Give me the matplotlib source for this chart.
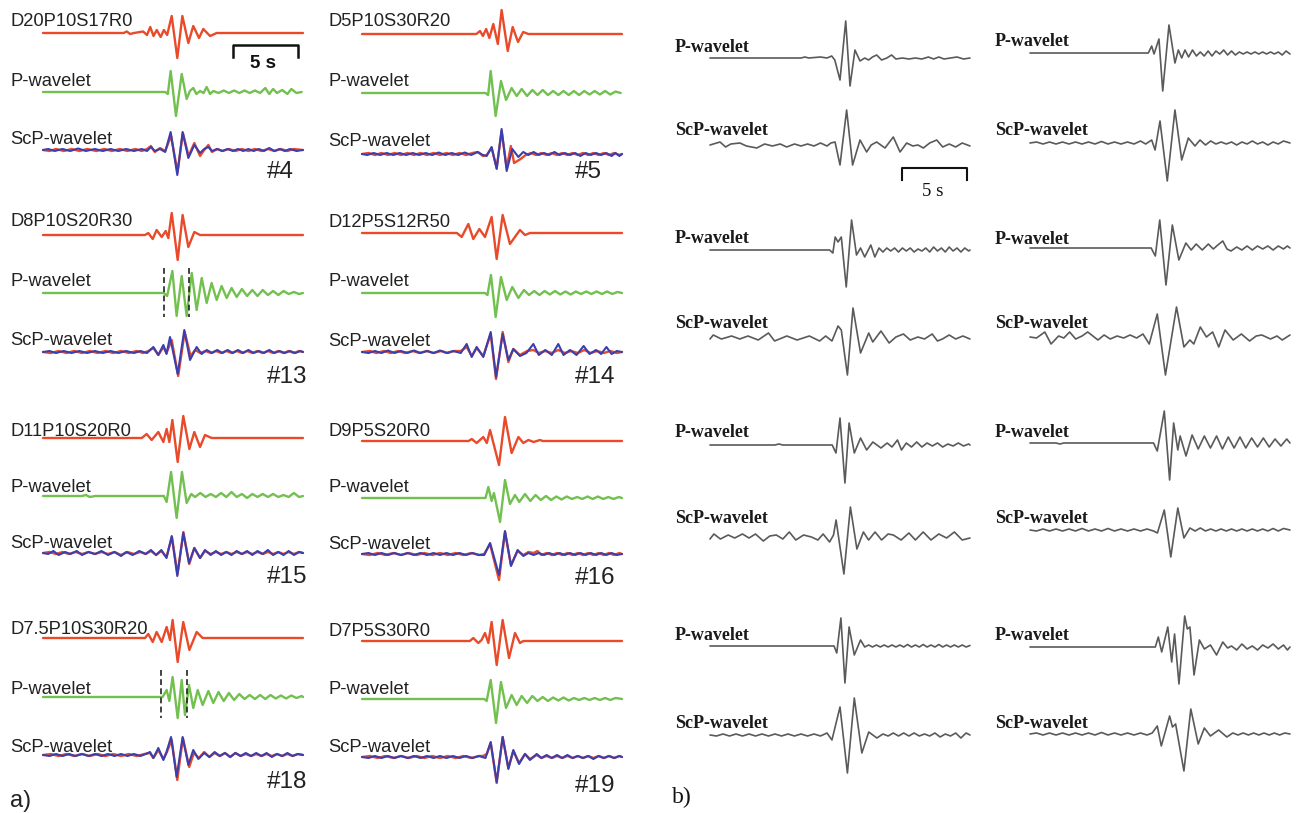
import matplotlib
matplotlib.use('Agg')
import matplotlib.pyplot as plt

W, H = 1302, 813
PX = 13.0  # pixels per second (5 s scale bar = 65 px)

# ---------------- data: (time s, amplitude) knots ----------------
# Panel a, event #4
A4_RED = [(0,0),(6.2,0),(6.45,1.5),(6.7,-1),(7.0,0),(7.7,1.5),(8.0,-2),(8.25,6),(8.5,-3),(8.75,3),(9.05,-4),(9.3,3),(9.55,-2),(9.9,17),(10.33,-25),(10.72,17),(11.18,-10),(11.56,7),(12.0,-5),(12.33,4),(12.85,-3),(13.36,0),(20,0)]
A4_GREEN = [(0,0),(9.4,0),(9.6,-2),(9.82,21),(10.23,-24),(10.67,18),(11.05,-7),(11.3,1),(11.56,4),(11.8,-2),(12.08,1),(12.35,-1),(12.59,5),(12.85,-2),(13.1,1),(13.5,-1),(13.9,1.5),(14.3,-1),(14.7,1.5),(15.1,-1),(15.5,1.5),(15.9,-1),(16.3,1.5),(16.7,-1),(17.1,4),(17.4,-2),(17.7,3),(18.0,-1),(18.4,2),(18.8,-2),(19.1,3),(19.5,-1),(19.9,0)]
A4_SCP_RED = [(0,0),(0.5,-1),(1.0,1),(1.6,-1),(2.2,1),(2.8,-1),(3.4,1),(4.1,-1),(4.7,1),(5.3,-1),(5.9,1),(6.5,-1),(7.1,1),(7.6,-1),(8.0,1),(8.3,4),(8.6,-2),(9.0,2),(9.4,-1),(9.85,14),(10.35,-22),(10.76,17),(11.2,-6),(11.64,7),(12.08,-6),(12.4,0),(12.72,5),(13.0,-2),(13.4,1),(13.8,-1),(14.3,1),(14.8,-1),(15.3,1),(15.8,-1),(16.3,1),(16.8,-1),(17.3,1),(17.8,-1),(18.3,1),(18.8,-1),(19.3,1),(20,0)]
A4_SCP_BLUE = [(0,0),(0.4,1),(0.9,-1),(1.5,1),(2.1,-1),(2.7,1.5),(3.3,-1),(4.0,1),(4.6,-1),(5.2,1),(5.8,-1),(6.4,1),(7.0,-1),(7.6,1),(8.0,-1),(8.3,3),(8.6,-1),(9.0,1),(9.4,-2),(9.82,18),(10.33,-25),(10.74,18),(11.18,-8),(11.64,5),(12.08,-3),(12.4,1),(12.72,3),(13.0,-1),(13.4,1),(13.8,-1),(14.2,1),(14.6,-1),(15.0,1),(15.4,-1),(15.8,1),(16.2,-1),(16.6,1),(17.0,-1),(17.4,2),(17.8,-1),(18.2,1),(18.6,-1),(19.0,1),(19.5,-1),(20,0)]

# Panel a, event #5
A5_RED = [(0,0),(8.8,0),(9.08,3),(9.3,-2),(9.55,5),(9.8,-4),(10.1,10),(10.45,-10),(10.74,24),(11.21,-17),(11.59,7),(12.0,-8),(12.4,2),(12.8,0),(20,0)]
A5_GREEN = [(0,0),(9.5,0),(9.7,-2),(9.9,22),(10.28,-23),(10.69,12),(11.08,-7),(11.51,5),(11.9,-3),(12.28,4),(12.7,-3),(13.1,3),(13.5,-2),(13.9,3),(14.3,-2),(14.7,2),(15.1,-2),(15.5,2),(15.9,-2),(16.3,2),(16.7,-2),(17.1,2),(17.5,-1.5),(17.9,2),(18.3,-1.5),(18.7,2),(19.1,-1.5),(19.5,1.5),(19.9,0)]
A5_SCP_RED = [(0,0),(0.5,1),(1.0,-1),(1.5,1),(2.0,-1),(2.5,1),(3.0,-1),(3.5,1),(4.0,-1),(4.5,1),(5.0,-1),(5.5,1),(6.0,-1),(6.5,1),(7.0,-1),(7.5,1),(8.0,-1),(8.5,1),(8.9,2),(9.3,-2),(9.59,-1),(9.97,6),(10.36,-14),(10.74,23),(11.13,-14),(11.45,8),(11.7,-9),(12.2,-5),(12.6,-1),(13.0,1),(13.4,-1),(13.8,1),(14.2,-1),(14.6,1),(15.0,-1),(15.4,1),(15.8,-1),(16.2,1),(16.6,-1),(17.0,1),(17.4,-1),(17.8,1),(18.2,-1),(18.6,1),(19.0,-1),(19.4,1),(19.8,-1),(20,0)]
A5_SCP_BLUE = [(0,0),(0.4,-1),(0.9,1),(1.4,-1),(1.9,1),(2.4,-1),(2.9,1),(3.4,-1),(3.9,1),(4.4,-1),(4.9,1),(5.4,-1),(5.9,1.5),(6.4,-1),(6.9,1),(7.4,-1),(7.9,1.5),(8.4,-1),(8.9,2),(9.3,-1),(9.59,-2),(9.97,7),(10.36,-15),(10.74,25),(11.13,-17),(11.56,5),(12.03,-3),(12.4,2),(12.8,-1),(13.2,2),(13.6,-1),(14.0,1),(14.4,-1),(14.8,2),(15.2,-1),(15.6,1),(16.0,-1),(16.4,1),(16.8,-2),(17.2,1),(17.6,-1),(18.0,1),(18.4,-1),(18.8,1),(19.2,-2),(19.5,1),(19.8,-2),(20,0)]

# Panel a, event #13
A13_RED = [(0,0),(7.85,0),(8.1,2),(8.44,-4),(8.74,5),(9.13,-2),(9.44,4),(9.64,-3),(9.9,22),(10.36,-25),(10.74,20),(11.18,-12),(11.64,3),(12.08,0),(20,0)]
A13_GREEN = [(0,0),(9.3,0),(9.55,-3),(9.95,22),(10.28,-23),(10.67,17),(11.05,-23),(11.44,20),(11.82,-17),(12.21,15),(12.59,-10),(12.97,10),(13.36,-7),(13.74,7),(14.13,-5),(14.51,5),(14.9,-4),(15.3,4),(15.7,-3),(16.1,3),(16.5,-3),(16.9,3),(17.3,-2),(17.7,2),(18.1,-2),(18.5,2),(18.9,-1),(19.3,1),(19.7,-1),(20,0)]
A13_SCP_RED = [(0,0),(0.6,-1),(1.2,1),(1.8,-1),(2.4,1),(3.0,-1),(3.6,1),(4.2,-1),(4.8,1),(5.4,-1),(6.0,1),(6.6,-1),(7.2,1),(7.7,-1),(8.1,1),(8.49,4),(8.87,-3),(9.26,5),(9.5,-1),(9.9,12),(10.4,-24),(10.9,20),(11.35,-4),(11.7,2),(12.1,-1),(12.5,1),(12.9,-1),(13.3,1),(13.7,-1),(14.1,1),(14.5,-1),(14.9,1),(15.3,-1),(15.7,1),(16.1,-1),(16.5,1),(16.9,-1),(17.3,1),(17.7,-1),(18.1,1),(18.5,-1),(18.9,1),(19.3,-1),(19.7,1),(20,0)]
A13_SCP_BLUE = [(0,0),(0.5,1),(1.0,-1),(1.6,1),(2.2,-1),(2.8,1),(3.4,-1),(4.0,1),(4.6,-1),(5.2,1),(5.8,-1),(6.4,1),(7.0,-1),(7.5,1),(8.0,-1),(8.49,5),(8.87,-3),(9.26,7),(9.5,-2),(9.77,15),(10.36,-22),(10.87,22),(11.31,-8),(11.82,5),(12.2,-2),(12.6,2),(13.0,-1),(13.4,2),(13.8,-1),(14.2,2),(14.6,-1),(15.0,2),(15.4,-1),(15.8,2),(16.2,-1),(16.6,1),(17.0,-1),(17.4,2),(17.8,-1),(18.2,1),(18.6,-1),(19.0,1),(19.4,-1),(19.8,1),(20,0)]

# Panel a, event #14
A14_RED = [(0,0),(7.3,0),(7.67,-4),(8.18,9),(8.56,-6),(9.03,4),(9.46,-4),(9.97,16),(10.36,-26),(10.82,18),(11.38,-11),(12.15,3),(12.54,-2),(12.92,0),(20,0)]
A14_GREEN = [(0,0),(9.45,0),(9.65,-2),(9.92,18),(10.28,-24),(10.69,16),(11.13,-7),(11.56,6),(12.03,-5),(12.46,3),(12.85,-2),(13.25,2),(13.65,-2),(14.05,2),(14.45,-1.5),(14.85,2),(15.25,-1.5),(15.65,1.5),(16.05,-1.5),(16.45,1.5),(16.85,-1),(17.25,1.5),(17.65,-1),(18.05,1.5),(18.45,-1),(18.85,1.5),(19.25,-1),(19.65,1),(20,0)]
A14_SCP_RED = [(0,0),(0.6,1),(1.1,-1),(1.7,1),(2.2,-1),(2.8,1),(3.3,-1),(3.9,1),(4.4,-1),(5.0,1),(5.5,-1),(6.1,1),(6.6,-1),(7.1,1),(7.6,1),(8.05,5),(8.44,-4),(8.82,4),(9.33,-4),(9.9,18),(10.31,-27),(10.82,20),(11.26,-10),(11.64,3),(12.15,-3),(12.7,1),(13.18,2),(13.6,-1),(14.1,1),(14.6,-1),(15.1,2),(15.6,-1),(16.1,1),(16.6,-1),(17.1,2),(17.6,-1),(18.1,1),(18.6,-1),(19.1,1),(19.6,-1),(20,0)]
A14_SCP_BLUE = [(0,0),(0.5,-1),(1.0,1),(1.5,-1),(2.0,1.5),(2.5,-1),(3.0,1),(3.5,-1),(4.0,1.5),(4.5,-1),(5.0,1),(5.5,-1),(6.0,1.5),(6.5,-1),(7.0,1),(7.6,-1),(8.05,8),(8.44,-5),(8.82,5),(9.33,-5),(9.9,20),(10.31,-25),(10.82,18),(11.26,-8),(11.64,3),(12.15,-4),(12.65,-1),(13.18,8),(13.6,-3),(14.1,2),(14.6,-3),(15.1,8),(15.5,-3),(16.0,2),(16.5,-3),(17.05,6),(17.5,-2),(18.0,2),(18.4,-2),(18.8,5),(19.2,-2),(19.6,1),(20,0)]

# Panel a, event #15
A15_RED = [(0,0),(7.6,0),(7.97,4),(8.36,-2),(8.87,6),(9.26,-4),(9.51,9),(9.72,-4),(9.95,18),(10.36,-24),(10.79,22),(11.26,-11),(11.64,6),(12.08,-9),(12.46,3),(12.97,0),(20,0)]
A15_GREEN = [(0,0),(3.0,0),(3.3,1),(3.6,-1),(4.0,0),(9.3,0),(9.51,-6),(9.85,24),(10.28,-22),(10.69,24),(11.05,-7),(11.4,2),(11.7,-1),(12.1,3),(12.5,-1),(12.9,2),(13.3,-1),(13.7,3),(14.1,-1),(14.5,4),(14.9,-1),(15.3,2),(15.7,-2),(16.1,2),(16.5,-1),(16.9,2),(17.3,-1),(17.7,2),(18.1,-1),(18.5,1),(18.9,-1),(19.3,3),(19.7,-1),(20,0)]
A15_SCP_RED = [(0,0),(0.5,1),(1.0,-1),(1.5,1),(2.0,-1),(2.5,1),(3.0,-1),(3.5,1),(4.0,-1),(4.5,1),(5.0,-1),(5.5,1),(6.0,-2),(6.5,1),(7.0,-1),(7.5,1),(7.9,-1),(8.3,2),(8.7,-2),(9.1,2),(9.5,-4),(9.92,16),(10.35,-21),(10.8,21),(11.25,-11),(11.64,5),(12.08,-5),(12.46,2),(12.9,-1),(13.3,1),(13.7,-1),(14.1,1),(14.5,-1),(14.9,1),(15.3,-1),(15.7,1),(16.1,-1),(16.5,1),(16.9,-1),(17.3,1),(17.7,-1),(18.1,1),(18.5,-1),(18.9,1),(19.3,-1),(19.7,1),(20,0)]
A15_SCP_BLUE = [(0,0),(0.4,-1),(0.8,2),(1.2,-2),(1.7,1),(2.1,-1),(2.6,2),(3.0,-2),(3.5,1),(4.0,-1),(4.5,2),(5.0,-2),(5.5,1),(6.0,-3),(6.4,1),(6.9,-2),(7.4,2),(7.9,-1),(8.3,3),(8.7,-2),(9.1,3),(9.5,-5),(9.9,17),(10.33,-23),(10.79,20),(11.23,-10),(11.64,5),(12.08,-5),(12.46,3),(12.9,-2),(13.3,2),(13.7,-2),(14.1,1),(14.5,-2),(14.9,2),(15.3,-1),(15.7,2),(16.1,-2),(16.5,2),(16.9,-1),(17.3,3),(17.7,-2),(18.1,1),(18.5,-2),(18.9,2),(19.3,-2),(19.7,1),(20,0)]

# Panel a, event #16
A16_RED = [(0,0),(8.2,0),(8.44,2),(8.82,-2),(9.33,4),(9.6,-2),(9.85,11),(10.54,-24),(11.0,24),(11.51,-12),(12.03,4),(12.41,-2),(12.8,1),(13.2,-1),(13.69,1),(13.9,0),(20,0)]
A16_GREEN = [(0,0),(9.5,0),(9.72,11),(9.97,-3),(10.15,5),(10.62,-24),(11.0,18),(11.38,-6),(11.77,3),(12.1,-4),(12.54,4),(12.95,-3),(13.35,3),(13.75,-2),(14.15,2),(14.55,-2),(14.95,1.5),(15.35,-1.5),(15.75,1.5),(16.15,-1),(16.55,1),(16.95,-1),(17.35,1.5),(17.75,-1),(18.15,1.5),(18.55,-1),(18.95,1),(19.35,-1),(19.75,1),(20,0)]
A16_SCP_RED = [(0,0),(0.6,-1),(1.2,1),(1.8,-1),(2.4,1),(3.0,-1),(3.6,1),(4.2,-1),(4.8,1),(5.4,-1),(6.0,1),(6.6,-1),(7.2,1),(7.8,-1),(8.4,1),(9.0,-1),(9.4,0),(9.85,10),(10.54,-26),(11.0,22),(11.46,-11),(11.97,3),(12.41,-1),(12.8,2),(13.2,1),(13.5,3),(13.8,-1),(14.2,1),(14.6,-1),(15.0,1),(15.4,-1),(15.8,1),(16.2,-1),(16.6,1),(17.0,-1),(17.4,1),(17.8,-1),(18.2,1),(18.6,-1),(19.0,1),(19.4,-1),(19.8,1),(20,0)]
A16_SCP_BLUE = [(0,0),(0.5,1),(1.0,-1),(1.5,1),(2.0,-1),(2.5,1),(3.0,-1),(3.5,1),(4.0,-1),(4.5,1),(5.0,-1),(5.5,1),(6.0,-1),(6.5,1),(7.0,-1),(7.5,1),(8.0,-1),(8.5,1),(9.0,-1),(9.4,-1),(9.85,11),(10.54,-21),(11.0,23),(11.46,-12),(11.97,4),(12.41,-2),(12.8,1),(13.2,-1),(13.6,1),(14.0,-1),(14.4,1),(14.8,-1),(15.2,1),(15.6,-1),(16.0,1),(16.4,-1),(16.8,1),(17.2,-1),(17.6,1),(18.0,-1),(18.4,1),(18.8,-1),(19.2,1),(19.6,-1),(20,0)]

# Panel a, event #18
A18_RED = [(0,0),(7.85,0),(8.1,4),(8.44,-4),(8.74,6),(9.13,-4),(9.51,11),(9.77,-2),(9.97,18),(10.36,-24),(10.79,16),(11.26,-12),(11.82,6),(12.28,0),(20,0)]
A18_GREEN = [(0,0),(9.2,0),(9.51,7),(9.72,-4),(9.97,20),(10.36,-21),(10.67,17),(10.92,-18),(11.23,12),(11.56,-11),(11.9,7),(12.28,-8),(12.72,6),(13.1,-6),(13.5,5),(13.9,-4),(14.3,4),(14.7,-3),(15.1,3),(15.5,-2),(15.9,2),(16.3,-2),(16.7,2),(17.1,-2),(17.5,2),(17.9,-1.5),(18.3,1.5),(18.7,-1.5),(19.1,1.5),(19.5,-1),(19.9,1),(20,0)]
A18_SCP_RED = [(0,0),(0.6,1),(1.2,-1),(1.8,1),(2.4,-1),(3.0,1),(3.6,-1),(4.2,1),(4.8,-1),(5.4,1),(6.0,-1),(6.6,1),(7.2,-1),(7.8,1),(8.23,2),(8.49,-3),(8.87,5),(9.26,-4),(9.5,2),(9.9,15),(10.33,-25),(10.76,17),(11.25,-12),(11.6,2),(12.0,-3),(12.4,3),(12.8,-2),(13.2,2),(13.6,-1),(14.0,2),(14.4,-2),(14.8,2),(15.2,-1),(15.6,1),(16.0,-1),(16.4,1),(16.8,-1),(17.2,1),(17.6,-1),(18.0,1),(18.4,-1),(18.8,1),(19.2,-1),(19.6,1),(20,0)]
A18_SCP_BLUE = [(0,0),(0.5,-1),(1.0,1),(1.5,-1),(2.0,1),(2.5,-1),(3.0,1),(3.5,-1),(4.0,1),(4.5,-1),(5.0,1),(5.5,-1),(6.0,1),(6.5,-1),(7.0,1),(7.5,-1),(7.9,1),(8.23,3),(8.49,-3),(8.87,7),(9.26,-5),(9.5,3),(9.85,18),(10.28,-22),(10.74,18),(11.18,-10),(11.56,5),(11.95,-4),(12.4,2),(12.8,-2),(13.2,3),(13.6,-1),(14.0,2),(14.4,-2),(14.8,2),(15.2,-1),(15.6,2),(16.0,-1),(16.4,2),(16.8,-1),(17.2,2),(17.6,-2),(18.0,1),(18.4,-1),(18.8,2),(19.2,-1),(19.6,1),(20,0)]

# Panel a, event #19
A19_RED = [(0,0),(8.3,0),(8.56,3),(8.95,-2),(9.2,1),(9.46,8),(9.72,-2),(9.97,19),(10.36,-24),(10.82,21),(11.31,-17),(11.77,8),(12.15,-2),(12.41,0),(20,0)]
A19_GREEN = [(0,0),(9.4,0),(9.59,-2),(9.9,19),(10.31,-24),(10.69,17),(11.08,-9),(11.51,4),(11.9,-6),(12.28,3),(12.7,-4),(13.1,3),(13.5,-2),(13.9,2),(14.3,-2),(14.7,1.5),(15.1,-1.5),(15.5,1.5),(15.9,-1.5),(16.3,1),(16.7,-1),(17.1,1),(17.5,-1),(17.9,1),(18.3,-1),(18.7,1),(19.1,-1),(19.5,1),(20,0)]
A19_SCP_RED = [(0,0),(0.6,1),(1.2,-1),(1.8,1),(2.4,-1),(3.0,1),(3.6,-1),(4.2,1),(4.8,-1),(5.4,1),(6.0,-1),(6.6,1),(7.2,-1),(7.8,1),(8.4,-1),(9.0,1),(9.3,1),(9.6,3),(9.9,14),(10.36,-26),(10.82,20),(11.26,-11),(11.64,6),(12.08,-6),(12.54,3),(12.92,-2),(13.44,2),(13.8,-1),(14.2,1),(14.6,-1),(15.0,1),(15.4,-1),(15.8,1),(16.2,-1),(16.6,1),(17.0,-1),(17.4,1),(17.8,-1),(18.2,1),(18.6,-1),(19.0,1),(19.4,-1),(19.8,1),(20,0)]
A19_SCP_BLUE = [(0,0),(0.5,-1),(1.0,1),(1.5,-1),(2.0,1),(2.5,-1),(3.0,1),(3.5,-1),(4.0,1),(4.5,-1),(5.0,1),(5.5,-1),(6.0,1),(6.5,-1),(7.0,1),(7.5,-1),(8.0,1),(8.5,-1),(9.0,1),(9.5,-1),(9.9,15),(10.36,-25),(10.82,20),(11.26,-12),(11.64,7),(12.08,-7),(12.54,3),(12.92,-3),(13.44,3),(13.8,-1),(14.2,2),(14.6,-1),(15.0,2),(15.4,-1),(15.8,2),(16.2,-1),(16.6,1),(17.0,-1),(17.4,1),(17.8,-2),(18.2,1),(18.6,-1),(19.0,1),(19.4,-1),(19.8,1),(20,0)]

# Panel b traces (P-wavelet, ScP-wavelet)
B1L_P = [(0,0),(7.0,0),(7.3,1),(7.6,0),(8.5,1),(9.0,0),(9.36,2),(9.6,-2),(10.0,-22),(10.44,37),(10.77,-28),(11.15,8),(11.54,-3),(11.9,0),(12.2,-2),(12.5,1),(12.82,3),(13.2,-2),(13.6,0),(13.97,3),(14.3,-1),(14.8,0),(15.3,-1),(15.8,0),(16.3,-1),(16.8,1),(17.2,-1),(17.6,1),(18.0,-1),(18.5,0),(19.0,1),(19.5,-1),(20,0)]
B1L_S = [(0,0),(0.77,3),(1.2,-2),(1.6,1),(2.3,2),(2.8,-1),(3.6,-3),(4.2,1),(4.8,-1),(5.4,1),(5.9,-2),(6.5,1),(7.0,-1),(7.5,1),(8.0,-1),(8.5,2),(9.0,-1),(9.3,2),(9.62,3),(10.0,-20),(10.51,35),(10.97,-20),(11.54,5),(12.05,-7),(12.4,0),(12.82,3),(13.46,-3),(14.1,8),(14.62,-7),(15.13,2),(15.6,-1),(16.0,0),(16.41,-3),(16.9,2),(17.44,5),(17.9,-2),(18.4,1),(18.9,-2),(19.4,2),(20,-1)]
B1R_P = [(0,0),(9.1,0),(9.36,7),(9.54,-1),(9.92,14),(10.21,-38),(10.69,28),(11.15,-10),(11.41,3),(11.67,-5),(11.92,3),(12.2,-4),(12.5,3),(12.8,-3),(13.1,1),(13.4,-3),(13.7,2),(14.0,-3),(14.3,2),(14.6,-1),(14.9,3),(15.2,-2),(15.5,2),(15.8,-2),(16.1,1),(16.4,-1),(16.7,1),(17.0,-1),(17.3,1),(17.6,-1),(17.9,1),(18.2,-1),(18.5,1),(18.8,-1),(19.1,1),(19.4,-2),(19.7,2),(20,-1)]
B1R_S = [(0,0),(0.5,1),(1.0,-1),(1.5,1),(2.0,-1),(2.5,1),(3.0,-1),(3.5,1),(4.0,-1),(4.5,1),(5.0,-1),(5.5,1.5),(6.0,-1),(6.5,1),(7.0,-1),(7.5,1),(8.0,-1),(8.5,2),(8.9,-1),(9.36,3),(9.62,-7),(10.0,22),(10.56,-38),(11.15,33),(11.67,-17),(12.18,5),(12.69,-3),(13.08,3),(13.5,-2),(13.9,2),(14.3,-1),(14.7,1),(15.1,-1),(15.5,1),(15.9,-2),(16.3,1),(16.7,-1),(17.1,2),(17.5,-1),(17.9,1),(18.3,-2),(18.7,1),(19.1,-1),(19.5,2),(20,0)]
B2L_P = [(0,0),(9.2,0),(9.45,-3),(9.63,13),(9.85,8),(10.1,13),(10.48,-37),(10.89,30),(11.27,-5),(11.58,2),(11.9,-7),(12.37,5),(12.68,-7),(13.0,2),(13.3,-2),(13.6,2),(13.9,-1),(14.2,2),(14.5,-2),(14.8,2),(15.1,-1),(15.4,2),(15.7,-2),(16.0,1),(16.3,-1),(16.6,2),(16.9,-2),(17.2,3),(17.5,-1),(17.8,2),(18.1,-2),(18.4,3),(18.7,-1),(19.0,2),(19.3,-2),(19.6,2),(19.9,-1),(20,0)]
B2L_S = [(0,-1),(0.25,3),(0.88,-1),(1.66,2),(2.29,-1),(2.92,2),(3.71,-2),(4.5,5),(4.97,-3),(5.91,2),(6.7,-2),(7.64,2),(8.43,-3),(8.9,2),(9.38,-3),(9.85,12),(10.1,8),(10.57,-37),(11.0,30),(11.58,-15),(12.21,5),(12.52,-4),(13.15,7),(13.78,-5),(14.3,1),(14.88,4),(15.4,-2),(15.99,1),(16.5,-1),(17.09,4),(17.5,-3),(17.88,-1),(18.4,3),(18.9,-1),(19.45,2),(20,-1)]
B2R_P = [(0,0),(9.32,0),(9.64,-8),(9.98,28),(10.46,-37),(10.95,23),(11.45,-12),(11.99,5),(12.4,-2),(12.78,4),(13.25,-2),(13.72,4),(14.1,-1),(14.45,3),(14.83,7),(15.15,-1),(15.46,-3),(15.9,1),(16.3,-2),(16.7,2),(17.1,-2),(17.5,2),(17.9,-1),(18.3,2),(18.7,-2),(19.1,2),(19.5,-1),(19.8,2),(20,0)]
B2R_S = [(0,0),(0.5,-1),(1.14,5),(1.62,-7),(2.2,1),(2.6,-1),(3.05,5),(3.51,-2),(4.0,1),(4.44,5),(5.23,-3),(5.7,2),(6.17,-2),(6.7,1),(7.2,-1),(7.7,2),(8.2,-1),(8.69,3),(9.17,-7),(9.79,23),(10.42,-38),(11.27,30),(11.84,-10),(12.3,-3),(12.6,-7),(13.1,10),(13.57,0),(14.05,5),(14.52,-10),(15.0,7),(15.63,-3),(16.26,3),(16.89,-4),(17.4,1),(17.83,2),(18.5,-2),(19.0,1),(19.4,-3),(20,2)]
B3L_P = [(0,0),(5.0,0),(5.3,1),(5.6,0),(9.4,0),(9.69,-8),(10.0,27),(10.38,-38),(10.7,22),(11.1,-8),(11.58,7),(12.05,-5),(12.53,3),(13.15,-3),(13.63,2),(14.0,-2),(14.42,5),(14.73,-5),(15.1,2),(15.5,-2),(15.9,3),(16.3,-2),(16.7,2),(17.1,-1),(17.5,2),(17.9,-2),(18.3,1),(18.7,-1),(19.1,2),(19.5,-1),(19.9,1),(20,0)]
B3L_S = [(0,-2),(0.3,3),(0.8,-2),(1.4,2),(1.9,-1),(2.5,3),(3.0,-1),(3.5,3),(4.1,-4),(4.6,1),(5.1,2),(5.6,-2),(6.1,5),(6.6,-3),(7.2,2),(7.8,0),(8.3,-3),(8.7,3),(9.2,-5),(9.5,2),(9.7,17),(10.3,-37),(10.8,30),(11.3,-12),(11.8,5),(12.2,-3),(12.7,5),(13.2,-3),(13.7,3),(14.1,2),(14.7,-3),(15.3,4),(15.8,-3),(16.4,5),(17.0,-3),(17.6,3),(18.2,-1),(18.8,5),(19.4,-3),(20,-1)]
B3R_P = [(0,0),(2.0,0),(2.3,-1),(2.6,0),(9.5,0),(9.79,-8),(10.33,32),(10.74,-37),(11.05,20),(11.37,-7),(11.55,7),(12.0,-13),(12.47,8),(12.94,-6),(13.41,7),(13.88,-5),(14.35,7),(14.8,-6),(15.25,6),(15.7,-5),(16.15,6),(16.6,-5),(17.05,5),(17.5,-4),(17.95,5),(18.4,-4),(18.85,4),(19.3,-3),(19.75,4),(20,0)]
B3R_S = [(0,0),(0.5,-1),(1.0,1),(1.5,-1),(2.0,1),(2.5,-1),(3.0,1),(3.5,-1),(4.0,1.5),(4.5,-1),(5.0,1),(5.5,-1),(6.0,1.5),(6.5,-1),(7.0,1),(7.5,-1),(8.0,1),(8.5,-1),(9.0,1),(9.5,-1),(9.8,-3),(10.33,20),(10.83,-27),(11.37,22),(11.84,-8),(12.3,2),(12.7,-1),(13.1,2),(13.5,-1),(13.9,1),(14.3,-1),(14.7,1),(15.1,-1),(15.5,1),(15.9,-1),(16.3,1),(16.7,-1),(17.1,1),(17.5,-1),(17.9,1),(18.3,-1),(18.7,1.5),(19.1,-1),(19.5,1.5),(20,0)]
B4L_P = [(0,0),(9.54,0),(9.75,-7),(10.07,28),(10.38,-37),(10.7,19),(11.1,-9),(11.58,6),(11.9,-1),(12.2,1),(12.5,-1),(12.8,1),(13.1,-1),(13.4,1),(13.7,-1),(14.0,1),(14.3,-1),(14.6,1),(14.9,-1),(15.2,1.5),(15.5,-1),(15.8,1),(16.1,-1),(16.4,1.5),(16.7,-1),(17.0,1),(17.3,-1),(17.6,1.5),(17.9,-1),(18.2,1),(18.5,-1),(18.8,1),(19.1,-1),(19.4,1),(19.7,-1),(20,0.5)]
B4L_S = [(0,0),(0.5,-1),(1.0,1),(1.5,-1),(2.0,1),(2.5,-1),(3.0,1),(3.5,-1),(4.0,1),(4.5,-1),(5.0,1),(5.5,-1),(6.0,1),(6.5,-1),(7.0,1),(7.5,-1),(8.0,1),(8.5,-1),(9.0,2),(9.38,-5),(10.0,28),(10.57,-38),(11.1,37),(11.68,-18),(12.21,3),(12.84,-3),(13.3,1),(13.7,-1),(14.1,2),(14.5,-1),(14.9,2),(15.3,-1),(15.7,2),(16.1,-1),(16.5,1),(16.9,-1),(17.3,2),(17.7,-2),(18.1,1),(18.5,-1),(18.9,2),(19.3,-3),(19.7,2),(20,0)]
B4R_P = [(0,0),(9.64,0),(9.87,10),(10.13,-5),(10.6,20),(10.9,-15),(11.12,13),(11.46,-37),(11.9,31),(12.1,18),(12.3,20),(12.62,-28),(13.03,7),(13.41,-2),(13.88,2),(14.35,-8),(14.83,5),(15.2,-1),(15.5,1),(15.9,-3),(16.3,3),(16.7,-2),(17.1,1),(17.5,-3),(17.9,2),(18.3,-1),(18.7,3),(19.1,-2),(19.5,2),(19.8,-3),(20,0)]
B4R_S = [(0,0),(0.5,1),(1.0,-1),(1.5,1),(2.0,-1),(2.5,1),(3.0,-1),(3.5,1),(4.0,-1),(4.5,1),(5.0,-1),(5.5,1.5),(6.0,-1),(6.5,1),(7.0,-1),(7.5,1),(8.0,-1),(8.5,1),(9.0,-1),(9.4,1),(9.79,8),(10.1,-12),(10.74,18),(10.96,7),(11.2,10),(11.84,-37),(12.37,25),(12.94,-10),(13.41,6),(13.88,-2),(14.51,4),(15.14,-3),(15.6,1),(16.0,-1),(16.4,1),(16.8,-1),(17.2,1),(17.6,-1),(18.0,1),(18.4,-1),(18.8,1),(19.2,-1),(19.6,1),(20,0)]

# Labels
A_LEFT_NAMES = ['D20P10S17R0', 'D8P10S20R30', 'D11P10S20R0', 'D7.5P10S30R20']
A_RIGHT_NAMES = ['D5P10S30R20', 'D12P5S12R50', 'D9P5S20R0', 'D7P5S30R0']
A_LEFT_TAGS = ['#4', '#13', '#15', '#18']
A_RIGHT_TAGS = ['#5', '#14', '#16', '#19']
SCALE_S = 5

# ---------------- layout ----------------
RED, GREEN, BLUE, GREY = '#e84a2a', '#72c04f', '#3b3fae', '#5a5a5a'
FONT_A = 'Liberation Sans'
FONT_B = 'Liberation Serif'

fig = plt.figure(figsize=(W / 100, H / 100), dpi=100)
fig.patch.set_facecolor('white')


def col_axes(x0):
    ax = fig.add_axes([0, 0, 1, 1])
    ax.set_xlim(-x0 / PX, (W - x0) / PX)
    ax.set_ylim(H, 0)
    ax.axis('off')
    ax.patch.set_alpha(0)
    return ax


def draw(ax, trace, base, color, lw):
    t = [p[0] for p in trace]
    y = [base - p[1] for p in trace]
    ax.plot(t, y, color=color, lw=lw, solid_joinstyle='round', solid_capstyle='round')


def txt(x, y, s, **kw):
    fig.text(x / W, 1 - y / H, s, va='center', ha='left', **kw)


# ----- panel a -----
a_cols = [
    dict(x0=43, lx=10, names=A_LEFT_NAMES, tags=A_LEFT_TAGS, tagx=267,
         traces=[(A4_RED, A4_GREEN, A4_SCP_RED, A4_SCP_BLUE),
                 (A13_RED, A13_GREEN, A13_SCP_RED, A13_SCP_BLUE),
                 (A15_RED, A15_GREEN, A15_SCP_RED, A15_SCP_BLUE),
                 (A18_RED, A18_GREEN, A18_SCP_RED, A18_SCP_BLUE)],
         bases=[(33, 92, 150), (235, 293, 352), (438, 496, 553), (638, 697, 755)],
         labely=[(21, 82, 140), (221, 281, 340), (431, 487, 543), (629, 689, 747)],
         tagy=[172, 377, 577, 782]),
    dict(x0=362, lx=328, names=A_RIGHT_NAMES, tags=A_RIGHT_TAGS, tagx=575,
         traces=[(A5_RED, A5_GREEN, A5_SCP_RED, A5_SCP_BLUE),
                 (A14_RED, A14_GREEN, A14_SCP_RED, A14_SCP_BLUE),
                 (A16_RED, A16_GREEN, A16_SCP_RED, A16_SCP_BLUE),
                 (A19_RED, A19_GREEN, A19_SCP_RED, A19_SCP_BLUE)],
         bases=[(34, 93, 154), (233, 293, 352), (441, 498, 554), (641, 699, 757)],
         labely=[(21, 82, 141), (222, 282, 341), (431, 487, 544), (631, 689, 747)],
         tagy=[172, 377, 578, 786]),
]

axes_a = []
for col in a_cols:
    ax = col_axes(col['x0'])
    axes_a.append(ax)
    for i, (red, green, sred, sblue) in enumerate(col['traces']):
        b1, b2, b3 = col['bases'][i]
        draw(ax, red, b1, RED, 1.7)
        draw(ax, green, b2, GREEN, 1.7)
        draw(ax, sred, b3, RED, 1.7)
        draw(ax, sblue, b3, BLUE, 1.5)
        y1, y2, y3 = col['labely'][i]
        txt(col['lx'], y1, col['names'][i], fontsize=13.2, family=FONT_A, color='#222222')
        txt(col['lx'], y2, 'P-wavelet', fontsize=13.2, family=FONT_A, color='#222222')
        txt(col['lx'], y3, 'ScP-wavelet', fontsize=13.2, family=FONT_A, color='#222222')
        txt(col['tagx'], col['tagy'][i], col['tags'][i], fontsize=17.5, family=FONT_A, color='#222222')

# dashed picking windows (#13 and #18)
axL = axes_a[0]
for (ta, tb), (ytop, ybot) in [((9.31, 11.23), (268, 317)), ((9.08, 11.08), (670, 718))]:
    for tt in (ta, tb):
        axL.plot([tt, tt], [ytop, ybot], color='#222222', lw=1.2, ls=(0, (3.5, 2)))

# scale bar panel a
t0 = 14.6
axL.plot([t0, t0, t0 + SCALE_S, t0 + SCALE_S], [57, 45, 45, 57], color='#111111', lw=1.8)
txt(250, 63, '5 s', fontsize=13.5, family=FONT_A, weight='bold', color='#111111')
txt(10, 801, 'a)', fontsize=17, family=FONT_A, color='#222222')

# ----- panel b -----
b_cols = [
    dict(x0=710, lx=675,
         traces=[(B1L_P, B1L_S), (B2L_P, B2L_S), (B3L_P, B3L_S), (B4L_P, B4L_S)],
         bases=[(58, 145), (250, 338), (445, 537), (646, 735)],
         labely=[(48, 130), (238, 324), (432, 518), (635, 723)]),
    dict(x0=1030, lx=995,
         traces=[(B1R_P, B1R_S), (B2R_P, B2R_S), (B3R_P, B3R_S), (B4R_P, B4R_S)],
         bases=[(53, 143), (248, 337), (443, 530), (647, 734)],
         labely=[(42, 130), (239, 324), (432, 518), (636, 723)]),
]
axes_b = []
for col in b_cols:
    ax = col_axes(col['x0'])
    axes_b.append(ax)
    for i, (p, s) in enumerate(col['traces']):
        bp, bs = col['bases'][i]
        draw(ax, p, bp, GREY, 1.2)
        draw(ax, s, bs, GREY, 1.2)
        yp, ys = col['labely'][i]
        txt(col['lx'], yp, 'P-wavelet', fontsize=13, family=FONT_B, weight='bold', color='#1a1a1a')
        txt(col['lx'], ys, 'ScP-wavelet', fontsize=13, family=FONT_B, weight='bold', color='#1a1a1a')

axB = axes_b[0]
t0b = 14.77
axB.plot([t0b, t0b, t0b + SCALE_S, t0b + SCALE_S], [180, 168, 168, 180], color='#111111', lw=1.5)
txt(922, 191, '5 s', fontsize=13.5, family=FONT_B, color='#111111')
txt(672, 797, 'b)', fontsize=17, family=FONT_B, color='#111111')

fig.savefig('out.png', dpi=100, facecolor='white')
